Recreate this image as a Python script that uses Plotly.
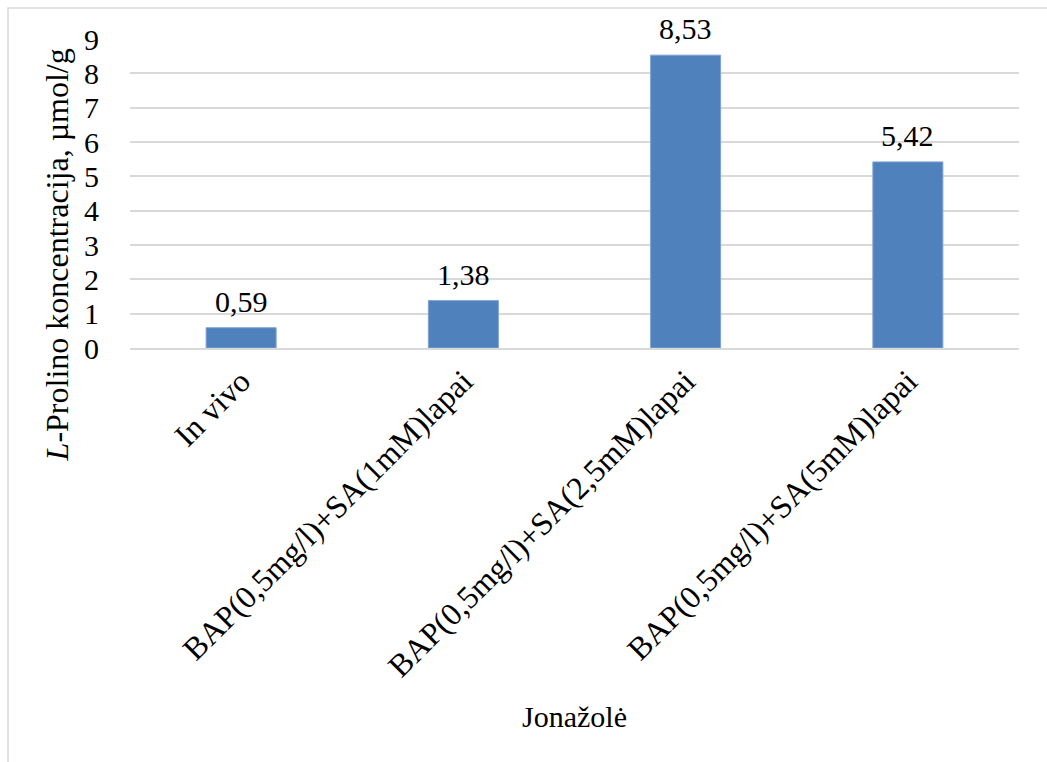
import plotly.graph_objects as go

# Proline content by sample type
categories = [
    "In vivo",
    "BAP(0,5mg/l)+SA(1mM)lapai",
    "BAP(0,5mg/l)+SA(2,5mM)lapai",
    "BAP(0,5mg/l)+SA(5mM)lapai",
]
values = [0.59, 1.38, 8.53, 5.42]
y_ticks = [0, 1, 2, 3, 4, 5, 6, 7, 8, 9]

FONT = "Liberation Serif"
GRID = "#D9D9D9"

labels = [f"{v:.2f}".replace(".", ",") for v in values]

fig = go.Figure(
    go.Bar(
        x=categories,
        y=values,
        width=0.315,
        marker=dict(color="#4F81BD", line=dict(color="#7FA3D3", width=1)),
        cliponaxis=False,
    )
)

# value labels above each bar
value_labels = [
    dict(
        x=c, y=v, text=t,
        xref="x", yref="y",
        showarrow=False,
        xanchor="center", yanchor="bottom",
        yshift=8,
        font=dict(family=FONT, size=30, color="black"),
    )
    for c, v, t in zip(categories, values, labels)
]

fig.update_layout(
    width=1047,
    height=762,
    margin=dict(l=130, r=28, t=39, b=414),
    paper_bgcolor="white",
    plot_bgcolor="white",
    font=dict(family=FONT, size=30, color="black"),
    showlegend=False,
    separators=",.",
    xaxis=dict(
        tickangle=-45,
        tickfont=dict(family=FONT, size=32, color="black"),
        showline=True,
        linecolor=GRID,
        linewidth=1.5,
        ticks="",
        showgrid=False,
    ),
    yaxis=dict(
        range=[0, 9],
        tickvals=y_ticks,
        tickfont=dict(family=FONT, size=30, color="black"),
        showgrid=True,
        gridcolor=GRID,
        gridwidth=1.5,
        zeroline=False,
        showline=False,
        ticks="outside",
        ticklen=24,
        tickcolor="rgba(0,0,0,0)",
    ),
    annotations=value_labels + [
        dict(
            text="<i>L</i>-Prolino koncentracija, µmol/g",
            xref="paper", yref="paper",
            x=-0.082, y=0.30,
            textangle=-90,
            showarrow=False,
            xanchor="center", yanchor="middle",
            font=dict(family=FONT, size=32, color="black"),
        ),
        dict(
            text="Jonažolė",
            xref="paper", yref="paper",
            x=0.5, y=-1.194,
            showarrow=False,
            xanchor="center", yanchor="middle",
            font=dict(family=FONT, size=30, color="black"),
        ),
    ],
    shapes=[
        dict(
            type="rect",
            xref="paper", yref="paper",
            x0=-0.1372, x1=1.2, y0=-1.6, y1=1.1003,
            line=dict(color=GRID, width=1.5),
            fillcolor="rgba(0,0,0,0)",
            layer="below",
        )
    ],
)

fig.write_html("out.html")
